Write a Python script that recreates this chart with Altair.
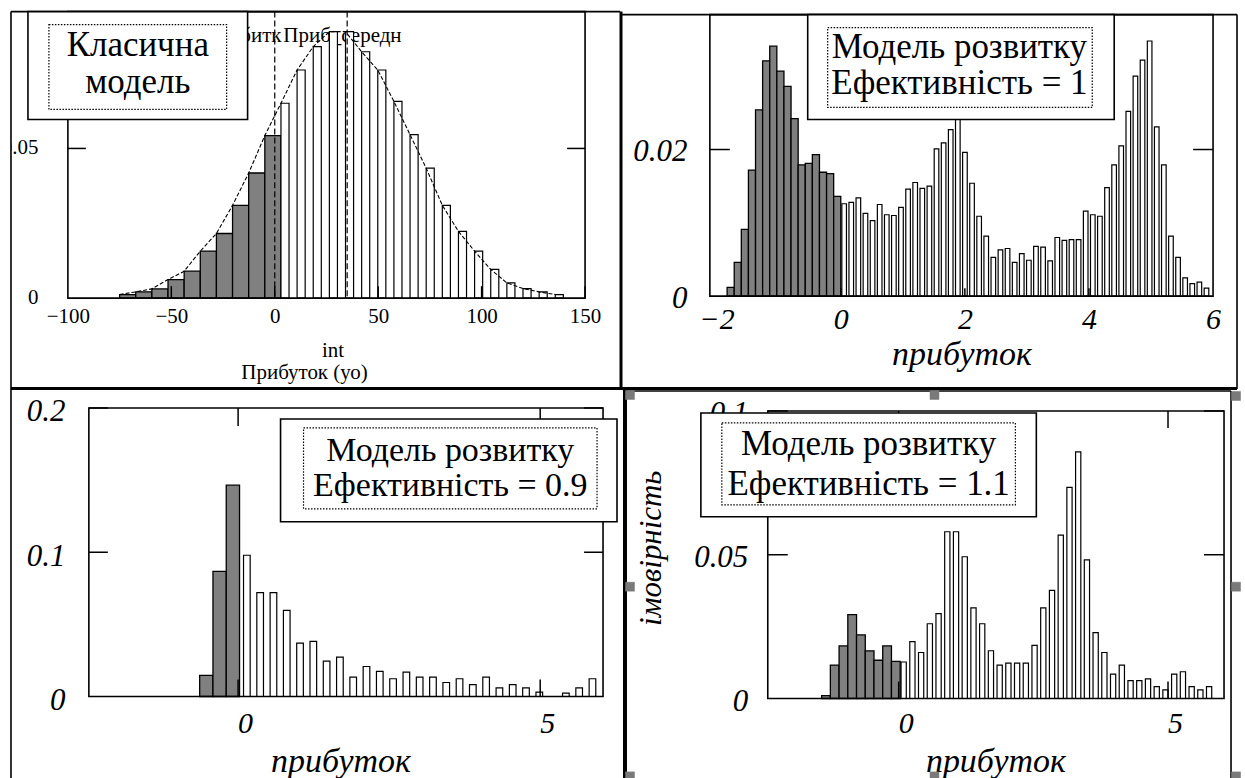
import altair as alt
import pandas as pd

FONT = "Liberation Serif"

# ================= data =================
# Panel 1 - classic model (bins of ~7.8 units)
p1_bin_width = 7.8
p1_first_edge = -75.0
p1_loss = [0.0012, 0.0021, 0.0031, 0.0062, 0.0090, 0.0157, 0.0216, 0.0310, 0.0418, 0.0543]
p1_profit = [0.0651, 0.0762, 0.0840, 0.0890, 0.0890, 0.0823, 0.0762, 0.0657, 0.0546, 0.0434,
             0.0310, 0.0223, 0.0157, 0.0096, 0.0051, 0.0032, 0.0021, 0.0012]
p1_markers = [0, 35]
p1_marker_labels = ["збитк", "Приб_середн"]
p1_x_ticks = [-100, -50, 0, 50, 100, 150]
p1_y_ticks = [0, 0.05]
p1_box_lines = ["Класична", "модель"]
p1_x_title = "int"
p1_x_caption = "Прибуток (уо)"

# Panel 2 - development model, efficiency = 1
p2_bin_width = 0.1145
p2_first_edge = -1.832
p2_loss = [0.0012, 0.0046, 0.0091, 0.0172, 0.0254, 0.0321, 0.0341, 0.0307, 0.0286, 0.0242,
           0.0179, 0.0181, 0.0193, 0.0169, 0.0167, 0.0136]
p2_profit = [0.0126, 0.0128, 0.0134, 0.0113, 0.0103, 0.0125, 0.0111, 0.0110, 0.0121, 0.0146,
             0.0155, 0.0147, 0.0150, 0.0201, 0.0209, 0.0227, 0.0245, 0.0196, 0.0154, 0.0109,
             0.0082, 0.0053, 0.0063, 0.0065, 0.0046, 0.0058, 0.0049, 0.0068, 0.0067, 0.0048,
             0.0080, 0.0076, 0.0077, 0.0077, 0.0116, 0.0111, 0.0109, 0.0148, 0.0179, 0.0205,
             0.0252, 0.0300, 0.0322, 0.0348, 0.0231, 0.0179, 0.0082, 0.0053, 0.0025, 0.0017,
             0.0019, 0.0011]
p2_x_ticks = [-2, 0, 2, 4, 6]
p2_y_ticks = [0, 0.02]
p2_box_lines = ["Модель розвитку", "Ефективність = 1"]

# Panel 3 - development model, efficiency = 0.9
p3_bin_width = 0.22
p3_first_edge = -0.636
p3_loss = [0.0146, 0.0868, 0.1465]
p3_profit = [0.0979, 0.0720, 0.0720, 0.0597, 0.0370, 0.0382, 0.0245, 0.0273, 0.0134, 0.0208,
             0.0174, 0.0123, 0.0169, 0.0134, 0.0134, 0.0097, 0.0123, 0.0083, 0.0134, 0.0060,
             0.0083, 0.0060, 0.0030, 0.0000, 0.0023, 0.0060, 0.0123]
p3_x_ticks = [0, 5]
p3_y_ticks = [0, 0.1, 0.2]
p3_box_lines = ["Модель розвитку", "Ефективність = 0.9"]

# Panel 4 - development model, efficiency = 1.1
p4_bin_width = 0.162
p4_first_edge = -1.43
p4_loss = [0.0010, 0.0116, 0.0183, 0.0292, 0.0221, 0.0166, 0.0133, 0.0183, 0.0129]
p4_profit = [0.0127, 0.0198, 0.0160, 0.0260, 0.0295, 0.0580, 0.0580, 0.0493, 0.0315, 0.0260,
             0.0166, 0.0116, 0.0123, 0.0123, 0.0123, 0.0185, 0.0315, 0.0376, 0.0568, 0.0734,
             0.0858, 0.0482, 0.0229, 0.0160, 0.0085, 0.0116, 0.0062, 0.0062, 0.0068, 0.0041,
             0.0030, 0.0085, 0.0093, 0.0041, 0.0030, 0.0041]
p4_x_ticks = [0, 5]
p4_y_ticks = [0, 0.05, 0.1]
p4_box_lines = ["Модель розвитку", "Ефективність = 1.1"]

x_title = "прибуток"
y_title = "імовірність"

# ================= helpers =================
ONE = alt.Data(values=[{"k": 0}])
NUMFMT = ".6~g"


def hist_tables(first_edge, w, loss, profit, off, frac):
    loss_df = pd.DataFrame({"x": [first_edge + i * w for i in range(len(loss))], "h": loss})
    loss_df["x2"] = loss_df["x"] + w
    start = first_edge + len(loss) * w
    edges = [start + i * w for i in range(len(profit))]
    prof_df = pd.DataFrame({"edge": edges, "h": profit})
    prof_df["x"] = prof_df["edge"] + off * w
    prof_df["x2"] = prof_df["edge"] + (off + frac) * w
    return loss_df, prof_df


def d_rule(x1, y1, x2=None, y2=None, w=1.5, dash=None, color="black"):
    props = dict(color=color, strokeWidth=w)
    if dash is not None:
        props["strokeDash"] = dash
    enc = dict(x=alt.value(x1), y=alt.value(y1))
    if x2 is not None:
        enc["x2"] = alt.value(x2)
    if y2 is not None:
        enc["y2"] = alt.value(y2)
    return alt.Chart(ONE).mark_rule(**props).encode(**enc)


def d_rect(x1, y1, x2, y2, fill="white", fop=1.0, stroke="black", sw=1.5, dash=None):
    props = dict(fill=fill, fillOpacity=fop, stroke=stroke, strokeWidth=sw)
    if dash is not None:
        props["strokeDash"] = dash
    return alt.Chart(ONE).mark_rect(**props).encode(
        x=alt.value(x1), x2=alt.value(x2), y=alt.value(y1), y2=alt.value(y2))


def d_text(x, y, text, size, align="center", baseline="middle", style="normal", lh=None):
    props = dict(font=FONT, fontSize=size, align=align, baseline=baseline,
                 fontStyle=style, color="black")
    if lh is not None:
        props["lineHeight"] = lh
    return alt.Chart(ONE).mark_text(**props).encode(
        x=alt.value(x), y=alt.value(y), text=alt.value(text))


def text_box(outer, inner, cx, line_ys, lines, size):
    out = [
        d_rect(*outer, fill="white", sw=1.6),
        d_rect(*inner, fill="white", fop=0.0, sw=1.2, dash=[1.5, 1.5]),
    ]
    for ly, t in zip(line_ys, lines):
        out.append(d_text(cx, ly, t, size))
    return out


def x_axis(values, H, pb, size, style, pad, dx=0, title=None, tx=0, ty=0, tsize=30, tstyle="italic"):
    kw = dict(values=values, format=NUMFMT, domain=False, ticks=False, tickSize=0, grid=False,
              labelFont=FONT, labelFontSize=size, labelFontStyle=style, labelColor="black",
              labelPadding=pad, labelBaseline="middle", labelAlign="center",
              labelFlush=False, labelOverlap=False, offset=-(H - pb), orient="bottom")
    if dx:
        kw["labelOffset"] = dx
    if title is None:
        kw["title"] = None
    else:
        kw.update(title=title, titleFont=FONT, titleFontSize=tsize, titleFontStyle=tstyle,
                  titleFontWeight="normal", titleColor="black", titleX=tx, titleY=ty,
                  titleAlign="center", titleBaseline="alphabetic")
    return alt.Axis(**kw)


def y_axis(values, pl, size, style, pad, dy=0, title=None, tx=0, ty=0, tsize=30):
    kw = dict(values=values, format=NUMFMT, domain=False, ticks=False, tickSize=0, grid=False,
              labelFont=FONT, labelFontSize=size, labelFontStyle=style, labelColor="black",
              labelPadding=pad, labelBaseline="middle", labelAlign="right",
              labelFlush=False, labelOverlap=False, offset=-pl, orient="left")
    if dy:
        kw["labelOffset"] = dy
    if title is None:
        kw["title"] = None
    else:
        kw.update(title=title, titleFont=FONT, titleFontSize=tsize, titleFontStyle="italic",
                  titleFontWeight="normal", titleColor="black", titleX=tx, titleY=ty,
                  titleAngle=270, titleAlign="center", titleBaseline="middle")
    return alt.Axis(**kw)


def panel(W, H, geo, xdom, ydom, xaxis, yaxis, loss_df, prof_df, ticks,
          under=(), middle=(), over=()):
    pl, pr, pt, pb = geo
    xs = alt.Scale(domain=xdom, range=[pl, pr], nice=False, zero=False)
    ys = alt.Scale(domain=ydom, range=[pb, pt], nice=False, zero=False)

    def X(f):
        return alt.X(f, type="quantitative", scale=xs, axis=xaxis)

    def Y(f):
        return alt.Y(f, type="quantitative", scale=ys, axis=yaxis)

    layers = list(under)
    layers.append(alt.Chart(loss_df).mark_rect(fill="#808080", stroke="black", strokeWidth=1.3)
                  .encode(x=X("x"), x2="x2", y=Y("h"), y2=alt.datum(0)))
    layers.append(alt.Chart(prof_df).mark_rect(fill="white", stroke="black", strokeWidth=1.2)
                  .encode(x=X("x"), x2="x2", y=Y("h"), y2=alt.datum(0)))
    for f in middle:
        layers.append(f(X, Y))
    # inward ticks
    for side, vals, length in ticks:
        df = pd.DataFrame({"t": vals})
        m = alt.Chart(df).mark_rule(color="black", strokeWidth=1.5)
        if side == "bottom":
            layers.append(m.encode(x=X("t"), y=alt.value(pb), y2=alt.value(pb - length)))
        elif side == "top":
            layers.append(m.encode(x=X("t"), y=alt.value(pt), y2=alt.value(pt + length)))
        elif side == "left":
            layers.append(m.encode(y=Y("t"), x=alt.value(pl), x2=alt.value(pl + length)))
        else:
            layers.append(m.encode(y=Y("t"), x=alt.value(pr - length), x2=alt.value(pr)))
    layers.append(d_rect(pl, pt, pr, pb, fill="white", fop=0.0, sw=1.6))
    layers.extend(over)
    return alt.layer(*layers).properties(width=W, height=H)


# ================= panel 1 =================
W1, H1 = 620, 388
g1 = (67, 585, 10, 297)
l1, w1 = hist_tables(p1_first_edge, p1_bin_width, p1_loss, p1_profit, 0.0, 0.5)
curve1 = pd.DataFrame({"x": list(l1["x"]) + list(w1["edge"]), "h": list(l1["h"]) + list(w1["h"])})
mk1 = pd.DataFrame({"x": p1_markers})


def p1_curve(X, Y):
    return alt.Chart(curve1).mark_line(color="black", strokeWidth=1.1, strokeDash=[4, 2]).encode(
        x=X("x"), y=Y("h"))


def p1_markers_layer(X, Y):
    return alt.Chart(mk1).mark_rule(color="black", strokeWidth=1.2, strokeDash=[6, 3]).encode(
        x=X("x"), y=alt.value(g1[2]), y2=alt.value(g1[3]))


xa1 = x_axis(p1_x_ticks, H1, g1[3], 21, "normal", 18, title=p1_x_title, tx=332, ty=58,
             tsize=21, tstyle="normal")
ya1 = y_axis(p1_y_ticks, g1[0], 21, "normal", 30, dy=-1)
panel1 = panel(
    W1, H1, g1, [-100, 150], [0, 0.0957], xa1, ya1, l1, w1,
    ticks=[("left", [0.05], 18), ("right", [0.05], 18), ("bottom", [-50, 0, 50, 100, 150], 12)],
    under=[
        d_text(281, 34, p1_marker_labels[0], 21, align="right"),
        d_text(342, 34, p1_marker_labels[1], 21, align="center"),
    ],
    middle=[p1_curve, p1_markers_layer],
    over=[
        d_rect(0, 0, 10, H1, fill="white", fop=1.0, stroke="white", sw=0),
        d_rule(10, 10, y2=388, w=1.6),
        d_rule(10, 10, x2=620, w=1.6),
        d_rule(10, 387.5, x2=620, w=3),
        d_rule(621, 10, y2=388, w=3),
        d_text(304, 378, p1_x_caption, 21, baseline="alphabetic"),
    ] + text_box((27, 10, 247, 118), (48, 23, 226, 108), 137, [43, 81], p1_box_lines, 35),
)

# ================= panel 2 =================
W2, H2 = 625, 388
g2 = (90, 594, 13, 295)
l2, w2 = hist_tables(p2_first_edge, p2_bin_width, p2_loss, p2_profit, 0.15, 0.65)
xa2 = x_axis(p2_x_ticks, H2, g2[3], 30, "italic", 23, title=x_title, tx=342, ty=68, tsize=34)
ya2 = y_axis(p2_y_ticks, g2[0], 31, "italic", 23, dy=2)
panel2 = panel(
    W2, H2, g2, [-2.11, 6.0], [0, 0.0384], xa2, ya2, l2, w2,
    ticks=[("left", [0.02], 20), ("right", [0.02], 20), ("bottom", [0, 2, 4], 8)],
    over=[
        d_rule(0, 13, x2=618, w=1.6),
        d_rule(618, 13, y2=388, w=1.6),
        d_rule(0, 387.5, x2=618, w=3),
    ] + text_box((188, 13, 495, 118), (208, 26, 473, 106), 340, [45, 82], p2_box_lines, 35),
)

# ================= panel 3 =================
W3, H3 = 620, 390
g3 = (88, 603, 19, 308)
l3, w3 = hist_tables(p3_first_edge, p3_bin_width, p3_loss, p3_profit, 0.3, 0.5)
xa3 = x_axis(p3_x_ticks, H3, g3[3], 30, "italic", 27, dx=7, title=x_title, tx=340, ty=75, tsize=34)
ya3 = y_axis(p3_y_ticks, g3[0], 31, "italic", 24, dy=4)
panel3 = panel(
    W3, H3, g3, [-2.47, 6.04], [0, 0.2], xa3, ya3, l3, w3,
    ticks=[("left", [0.1, 0.2], 19), ("right", [0.1, 0.2], 19),
           ("top", [0, 5], 18), ("bottom", [0, 5], 17)],
    over=[
        d_rule(10, 0, y2=390, w=1.6),
    ] + text_box((280, 30, 617, 133), (303, 39, 597, 120), 450, [62, 97], p3_box_lines, 34),
)

# ================= panel 4 =================
W4, H4 = 625, 390
g4 = (148, 605, 22, 310)
l4, w4 = hist_tables(p4_first_edge, p4_bin_width, p4_loss, p4_profit, 0.1, 0.6)
xa4 = x_axis(p4_x_ticks, H4, g4[3], 30, "italic", 25, dx=7, title=x_title, tx=376, ty=73, tsize=34)
ya4 = y_axis(p4_y_ticks, g4[0], 31, "italic", 20, dy=3, title=y_title, tx=32 - g4[0], ty=159, tsize=31)
handles = []
for hx, hy in [(10, 6), (315, 6), (617, 7), (10, 198), (617, 198), (10, 388), (315, 388), (617, 388)]:
    handles.append(d_rect(hx - 4.5, hy - 4.5, hx + 4.5, hy + 4.5, fill="#7a7a7a", stroke="#7a7a7a", sw=0.5))
panel4 = panel(
    W4, H4, g4, [-2.43, 6.04], [0, 0.1], xa4, ya4, l4, w4,
    ticks=[("left", [0.05, 0.1], 20), ("right", [0.05, 0.1], 20),
           ("top", [0, 5], 17), ("bottom", [0, 5], 17)],
    over=[
        d_rule(5, 0, y2=390, w=4),
        d_rule(5, 2, x2=612, w=1.6),
        d_rule(612, 2, y2=390, w=1.6),
    ] + text_box((81, 24, 417, 128), (102, 34, 396, 116), 249, [55, 95], p4_box_lines, 35) + handles,
)

chart = alt.concat(panel1, panel2, panel3, panel4, columns=2, spacing=0, bounds="flush").properties(
    padding=0, background="white"
).configure_view(stroke="transparent")

chart.save("out.html", embed_options={"renderer": "svg", "actions": False})
